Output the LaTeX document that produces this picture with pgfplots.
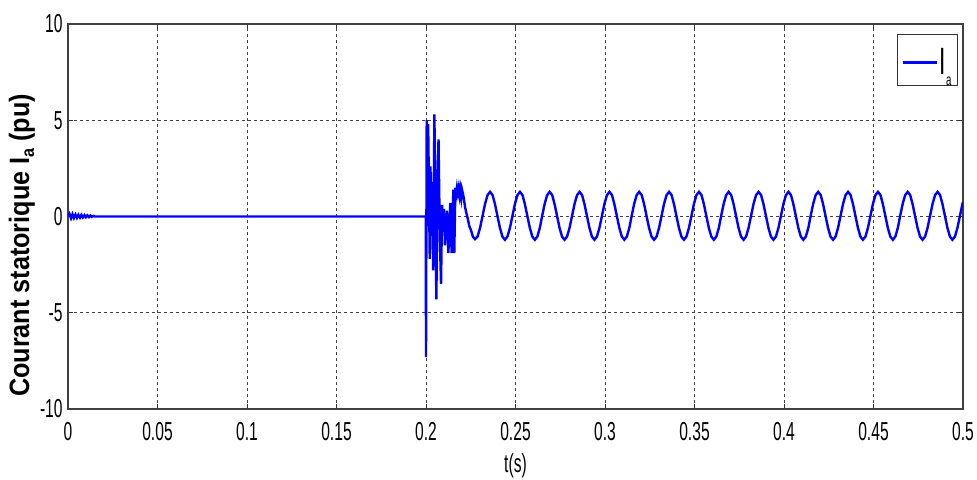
\documentclass[border=0pt]{standalone}
\usepackage{fontspec}
\setmainfont{Liberation Sans}[FakeStretch=0.6]
\newfontfamily\ylabfont{Liberation Sans}[FakeStretch=0.9]
\usepackage{graphicx}
\usepackage{pgfplots}
\pgfplotsset{compat=1.18}
\usepackage{pgfplotstable}

% stator current i_a (pu) versus time (s)
\pgfplotstableread{
t ia
0 0
0.0008 0.14
0.0017 -0.09
0.0025 0.12
0.0033 -0.08
0.0042 0.1
0.005 -0.07
0.0058 0.09
0.0067 -0.06
0.0075 0.08
0.0083 -0.05
0.0092 0.07
0.01 -0.04
0.0108 0.06
0.0117 -0.03
0.0125 0.05
0.0133 -0.02
0.0142 0.03
0.015 0
0.1999 0
0.2000 -7.3
0.2004 5.0
0.2008 -0.5
0.2012 4.8
0.2017 1.0
0.2021 -2.2
0.2025 2.6
0.2030 -1.0
0.2035 1.8
0.2040 -2.8
0.2047 5.3
0.2054 -1.5
0.2058 -4.3
0.2064 2.0
0.2070 4.0
0.2077 -1.0
0.2084 -3.5
0.2090 0.6
0.2095 -0.8
0.2100 0.4
0.2106 -1.5
0.2112 -0.2
0.2117 0.3
0.2125 -1.9
0.2130 -0.6
0.2136 0.7
0.2143 -1.9
0.2148 -0.3
0.2153 1.4
0.2158 -1.9
0.2164 1.5
0.2168 1.1
0.2173 1.5
0.2178 1.2
0.2183 1.5
0.2188 1.1
0.2192 1.4
0.2197 1.0
0.2201 1.4
0.2206 1.2
0.2212 0.9
0.2218 0.5
0.2225 0.2
0.2233 -0.1
0.2242 -0.5
0.2251 -0.7
0.2262 -1.05
0.2274 -1.18
0.2288 -1.043
0.2302 -0.588
0.2316 0.035
0.2330 0.658
0.2344 1.113
0.2358 1.28
0.2372 1.113
0.2385 0.658
0.2399 0.035
0.2413 -0.588
0.2427 -1.043
0.2441 -1.21
0.2455 -1.043
0.2469 -0.588
0.2483 0.035
0.2497 0.658
0.2511 1.113
0.2525 1.28
0.2539 1.113
0.2552 0.658
0.2566 0.035
0.2580 -0.588
0.2594 -1.043
0.2608 -1.21
0.2622 -1.043
0.2636 -0.588
0.2649 0.035
0.2663 0.658
0.2677 1.113
0.2691 1.28
0.2705 1.113
0.2718 0.658
0.2732 0.035
0.2746 -0.588
0.2760 -1.043
0.2774 -1.21
0.2788 -1.043
0.2802 -0.588
0.2816 0.035
0.2830 0.658
0.2844 1.113
0.2858 1.28
0.2872 1.113
0.2885 0.658
0.2899 0.035
0.2913 -0.588
0.2927 -1.043
0.2941 -1.21
0.2955 -1.043
0.2969 -0.588
0.2983 0.035
0.2997 0.658
0.3011 1.113
0.3025 1.28
0.3039 1.113
0.3052 0.658
0.3066 0.035
0.3080 -0.588
0.3094 -1.043
0.3108 -1.21
0.3122 -1.043
0.3136 -0.588
0.3149 0.035
0.3163 0.658
0.3177 1.113
0.3191 1.28
0.3205 1.113
0.3218 0.658
0.3232 0.035
0.3246 -0.588
0.3260 -1.043
0.3274 -1.21
0.3288 -1.043
0.3302 -0.588
0.3316 0.035
0.3330 0.658
0.3344 1.113
0.3358 1.28
0.3372 1.113
0.3385 0.658
0.3399 0.035
0.3413 -0.588
0.3427 -1.043
0.3441 -1.21
0.3455 -1.043
0.3469 -0.588
0.3483 0.035
0.3497 0.658
0.3511 1.113
0.3525 1.28
0.3539 1.113
0.3552 0.658
0.3566 0.035
0.3580 -0.588
0.3594 -1.043
0.3608 -1.21
0.3622 -1.043
0.3636 -0.588
0.3649 0.035
0.3663 0.658
0.3677 1.113
0.3691 1.28
0.3705 1.113
0.3718 0.658
0.3732 0.035
0.3746 -0.588
0.3760 -1.043
0.3774 -1.21
0.3788 -1.043
0.3802 -0.588
0.3816 0.035
0.3830 0.658
0.3844 1.113
0.3858 1.28
0.3872 1.113
0.3885 0.658
0.3899 0.035
0.3913 -0.588
0.3927 -1.043
0.3941 -1.21
0.3955 -1.043
0.3969 -0.588
0.3983 0.035
0.3997 0.658
0.4011 1.113
0.4025 1.28
0.4039 1.113
0.4052 0.658
0.4066 0.035
0.4080 -0.588
0.4094 -1.043
0.4108 -1.21
0.4122 -1.043
0.4136 -0.588
0.4149 0.035
0.4163 0.658
0.4177 1.113
0.4191 1.28
0.4205 1.113
0.4218 0.658
0.4232 0.035
0.4246 -0.588
0.4260 -1.043
0.4274 -1.21
0.4288 -1.043
0.4302 -0.588
0.4316 0.035
0.4330 0.658
0.4344 1.113
0.4358 1.28
0.4372 1.113
0.4385 0.658
0.4399 0.035
0.4413 -0.588
0.4427 -1.043
0.4441 -1.21
0.4455 -1.043
0.4469 -0.588
0.4483 0.035
0.4497 0.658
0.4511 1.113
0.4525 1.28
0.4539 1.113
0.4552 0.658
0.4566 0.035
0.4580 -0.588
0.4594 -1.043
0.4608 -1.21
0.4622 -1.043
0.4636 -0.588
0.4649 0.035
0.4663 0.658
0.4677 1.113
0.4691 1.28
0.4705 1.113
0.4718 0.658
0.4732 0.035
0.4746 -0.588
0.4760 -1.043
0.4774 -1.21
0.4788 -1.043
0.4802 -0.588
0.4816 0.035
0.4830 0.658
0.4844 1.113
0.4858 1.28
0.4872 1.113
0.4885 0.658
0.4899 0.035
0.4913 -0.588
0.4927 -1.043
0.4941 -1.21
0.4955 -1.043
0.4969 -0.588
0.4983 0.035
0.4997 0.658
0.5 0.75
}\iadata

\begin{document}
\begin{tikzpicture}
\begin{axis}[
    at={(0,0)}, anchor=south west,
    scale only axis,
    width=447.5pt, height=192.5pt,
    xmin=0, xmax=0.5, ymin=-10, ymax=10,
    xtick={0,0.05,0.1,0.15,0.2,0.25,0.3,0.35,0.4,0.45,0.5},
    xticklabels={0,0.05,0.1,0.15,0.2,0.25,0.3,0.35,0.4,0.45,0.5},
    ytick={-10,-5,0,5,10},
    yticklabels={-10,-5,0,5,10},
    tick align=inside,
    major tick length=2.5pt,
    tick style={black!80, line width=0.5pt},
    axis line style={black!75, line width=0.8pt},
    grid=major,
    grid style={black!75, line width=0.5pt, dash pattern=on 1.5pt off 1.5pt},
    every tick label/.append style={font=\fontsize{13}{13}\selectfont},
    xticklabel style={anchor=north, inner sep=0pt, yshift=-6.5pt},
    yticklabel style={anchor=east, inner sep=0pt, xshift=-2.5pt},
    xlabel={t(s)},
    xlabel style={font=\fontsize{13}{13}\selectfont, at={(axis description cs:0.5,-0.148)}, anchor=center},
    ylabel={Courant statorique I\raisebox{-2.5pt}{\fontsize{9}{9}\selectfont a} (pu)},
    ylabel style={font=\ylabfont\bfseries\fontsize{14}{14}\selectfont, at={(axis description cs:-0.0514,0.425)}, anchor=center},
    legend style={at={(axis description cs:1,1)}, anchor=north east,
        xshift=-2.5pt, yshift=-5pt,
        draw=black!80, line width=0.6pt,
        inner xsep=2pt, inner ysep=0pt,
        font=\fontsize{19}{19}\selectfont,
        nodes={inner xsep=1pt, inner ysep=0pt, text height=20pt, text depth=5.5pt}},
    legend image code/.code={\draw[#1] (0pt,-1.3pt) -- (17pt,-1.3pt);},
]
\addplot[blue, line width=1.2pt] table[x=t, y=ia] {\iadata};
\addlegendentry{I\raisebox{-5.7pt}{\fontsize{8}{8}\selectfont a}}
\end{axis}
\pgfresetboundingbox
\path (-34pt,-35.5pt) rectangle (454.5pt,204.5pt);
\end{tikzpicture}
\end{document}
